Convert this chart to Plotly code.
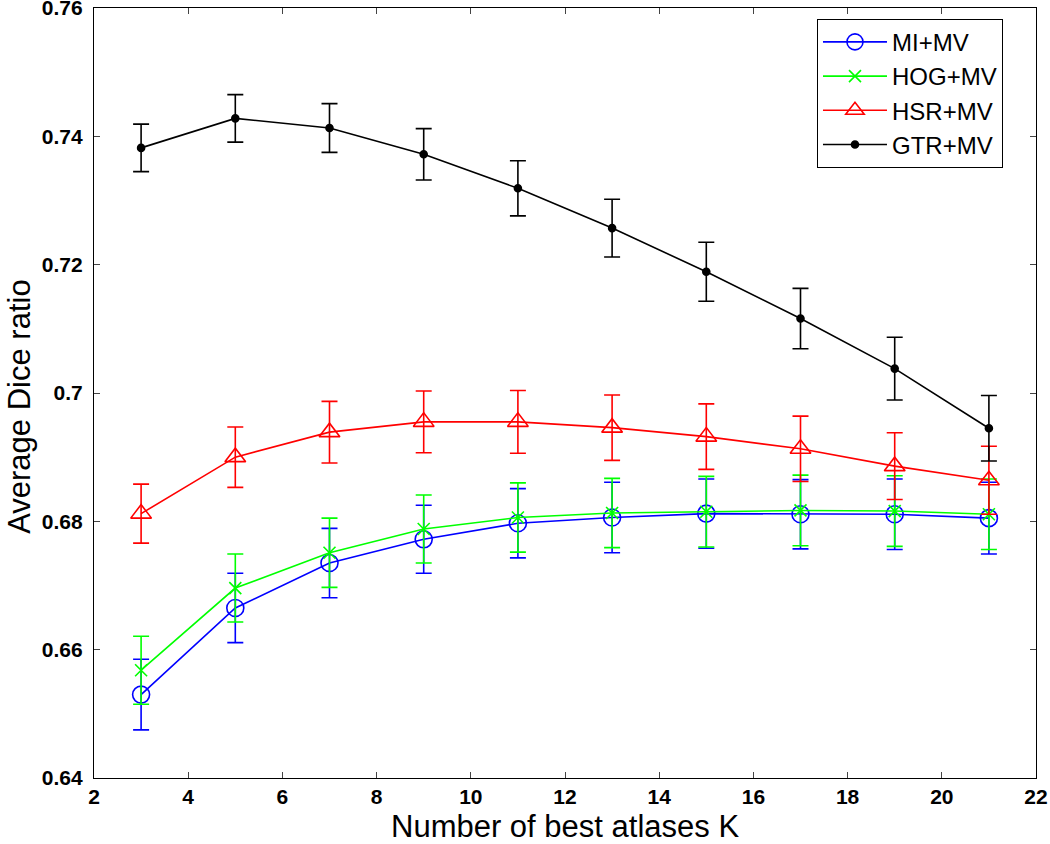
import plotly.graph_objects as go

K = [3, 5, 7, 9, 11, 13, 15, 17, 19, 21]
mi = [0.6530, 0.6665, 0.6735, 0.6772, 0.6797, 0.6806, 0.6812, 0.6811, 0.6811, 0.6805]
mi_err = [0.0055, 0.0054, 0.0054, 0.0053, 0.0054, 0.0055, 0.0054, 0.0054, 0.0055, 0.0056]
hog = [0.6568, 0.6696, 0.6751, 0.6788, 0.6806, 0.6813, 0.6815, 0.6817, 0.6816, 0.6811]
hog_err = [0.0053, 0.0053, 0.0054, 0.0053, 0.0054, 0.0054, 0.0055, 0.0055, 0.0055, 0.0055]
hsr = [0.6812, 0.6900, 0.6939, 0.6955, 0.6955, 0.6946, 0.6932, 0.6913, 0.6886, 0.6864]
hsr_err = [0.0046, 0.0047, 0.0048, 0.0048, 0.0049, 0.0051, 0.0051, 0.0051, 0.0052, 0.0053]
gtr = [0.7382, 0.7428, 0.7413, 0.7372, 0.7319, 0.7257, 0.7189, 0.7116, 0.7038, 0.6945]
gtr_err = [0.0037, 0.0037, 0.0038, 0.0040, 0.0043, 0.0045, 0.0046, 0.0047, 0.0049, 0.0051]

names = ["MI+MV", "HOG+MV", "HSR+MV", "GTR+MV"]
x_ticks = [2, 4, 6, 8, 10, 12, 14, 16, 18, 20, 22]
y_ticks = [0.64, 0.66, 0.68, 0.70, 0.72, 0.74, 0.76]
y_tick_text = ["0.64", "0.66", "0.68", "0.7", "0.72", "0.74", "0.76"]
x_title = "Number of best atlases K"
y_title = "Average Dice ratio"

series = [
    (mi, mi_err, names[0], "rgb(0,0,255)", "circle-open", 17),
    (hog, hog_err, names[1], "rgb(0,255,0)", "x-thin-open", 12),
    (hsr, hsr_err, names[2], "rgb(255,0,0)", "triangle-up-open", 18),
    (gtr, gtr_err, names[3], "rgb(0,0,0)", "circle", 7),
]

fig = go.Figure()
for vals, errs, name, color, sym, size in series:
    fig.add_trace(go.Scatter(
        x=K, y=vals, name=name, mode="lines+markers",
        line=dict(color=color, width=1.6),
        marker=dict(symbol=sym, size=size, color=color,
                    line=dict(color=color, width=1.6)),
        error_y=dict(type="data", array=errs, visible=True,
                     color=color, thickness=1.6, width=8),
    ))

font_family = "Liberation Sans, Arial, sans-serif"
tickfont = dict(size=21, family=font_family, color="black", weight="bold")
titlefont = dict(size=31, family=font_family, color="black")

fig.update_layout(
    width=1050, height=844,
    margin=dict(l=94, r=14, t=8, b=66, autoexpand=False),
    paper_bgcolor="white", plot_bgcolor="white",
    font=dict(family=font_family, color="black"),
    showlegend=True,
    legend=dict(
        x=0.7675, y=0.986, xanchor="left", yanchor="top",
        bgcolor="white", bordercolor="black", borderwidth=1,
        font=dict(size=24, family=font_family, color="black"),
        itemwidth=64, tracegroupgap=0,
    ),
    xaxis=dict(
        range=[2, 22], tickvals=x_ticks, ticks="inside", ticklen=6,
        showline=True, linecolor="black", linewidth=1.2, mirror="ticks",
        showgrid=False, zeroline=False, automargin=False,
        tickfont=tickfont, ticklabelstandoff=0, ticklabeloverflow="allow",
    ),
    yaxis=dict(
        range=[0.64, 0.76], tickvals=y_ticks, ticktext=y_tick_text,
        ticks="inside", ticklen=6,
        showline=True, linecolor="black", linewidth=1.2, mirror="ticks",
        showgrid=False, zeroline=False, automargin=False,
        tickfont=tickfont, ticklabelstandoff=6, ticklabeloverflow="allow",
    ),
    annotations=[
        dict(text=x_title, xref="paper", yref="paper", x=0.5, y=-0.0635,
             xanchor="center", yanchor="middle", showarrow=False,
             borderpad=0, font=titlefont),
        dict(text=y_title, xref="paper", yref="paper", x=-0.0786, y=0.482,
             xanchor="center", yanchor="middle", showarrow=False,
             borderpad=0, textangle=-90, font=titlefont),
    ],
)

fig.write_html(
    "out.html",
    config={"displayModeBar": False},
    post_script="document.body.style.margin='0';document.body.style.padding='0';",
)
